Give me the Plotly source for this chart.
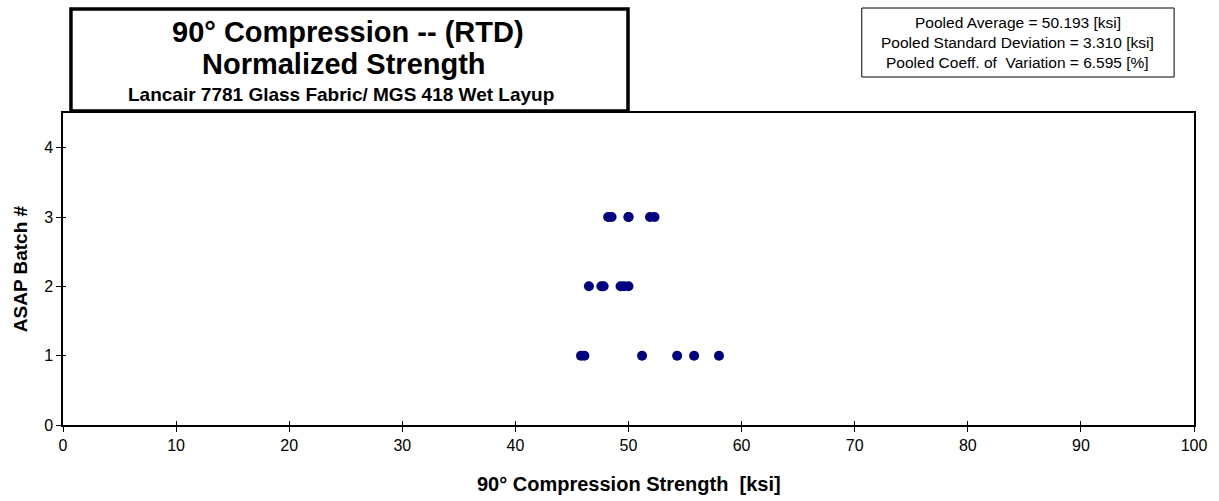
import plotly.graph_objects as go

# Data
batch_ids = [1, 2, 3]
batch1_strength = [45.8, 46.1, 51.2, 54.3, 55.8, 58.0]
batch2_strength = [46.5, 47.6, 47.8, 49.3, 49.6, 50.0]
batch3_strength = [48.2, 48.5, 50.0, 50.0, 51.9, 52.3]
x_ticks = [0, 10, 20, 30, 40, 50, 60, 70, 80, 90, 100]
y_ticks = [0, 1, 2, 3, 4]

title_lines = ["90° Compression -- (RTD)", "Normalized Strength"]
subtitle = "Lancair 7781 Glass Fabric/ MGS 418 Wet Layup"
stats_lines = [
    "Pooled Average = 50.193 [ksi]",
    "Pooled Standard Deviation = 3.310 [ksi]",
    "Pooled Coeff. of  Variation = 6.595 [%]",
]
x_title = "90° Compression Strength  [ksi]"
y_title = "ASAP Batch #"

W, H = 1219, 501
L, R, T, B = 63, 1200, 113, 425  # plot area in pixels
FONT = "Arial, Liberation Sans, sans-serif"


def px(x):
    return (x - L) / (R - L)


def py(y):
    return (B - y) / (B - T)


xs, ys = [], []
for b, vals in zip(batch_ids, [batch1_strength, batch2_strength, batch3_strength]):
    xs += vals
    ys += [b] * len(vals)

fig = go.Figure()
fig.add_trace(go.Scatter(
    x=xs, y=ys, mode="markers",
    marker=dict(color="#000080", size=10, line=dict(width=0)),
    showlegend=False, hoverinfo="x+y",
))
# invisible trace on overlay axes so the inside tick half is drawn
fig.add_trace(go.Scatter(x=[None], y=[None], xaxis="x2", yaxis="y2",
                         showlegend=False, hoverinfo="skip"))

axis_common = dict(tickcolor="black", showgrid=False, zeroline=False)

fig.update_layout(
    width=W, height=H,
    margin=dict(l=L, r=W - R, t=T, b=H - B),
    paper_bgcolor="white", plot_bgcolor="white",
    font=dict(family=FONT, color="black", size=16),
    xaxis=dict(
        range=[0, 100], tickvals=x_ticks, ticks="outside", ticklen=5,
        showline=True, linecolor="black", linewidth=1.5, mirror=True,
        tickfont=dict(size=16, family=FONT), **axis_common,
    ),
    yaxis=dict(
        range=[0, 4.5], tickvals=y_ticks, ticks="outside", ticklen=5,
        showline=True, linecolor="black", linewidth=1.5, mirror=True,
        tickfont=dict(size=16, family=FONT), **axis_common,
    ),
    xaxis2=dict(
        range=[0, 100], tickvals=x_ticks, ticks="inside", ticklen=4,
        overlaying="x", side="bottom", anchor="y2", showticklabels=False,
        showline=False, **axis_common,
    ),
    yaxis2=dict(
        range=[0, 4.5], tickvals=y_ticks, ticks="inside", ticklen=3,
        overlaying="y", side="left", anchor="x2", showticklabels=False,
        showline=False, **axis_common,
    ),
)

# Axis titles
fig.add_annotation(xref="paper", yref="paper", x=px((L + R) / 2), y=py(484),
                   text="<b>" + x_title + "</b>", showarrow=False,
                   font=dict(size=20, family=FONT), xanchor="center", yanchor="middle")
fig.add_annotation(xref="paper", yref="paper", x=px(20), y=py((T + B) / 2),
                   text="<b>" + y_title + "</b>", showarrow=False, textangle=-90,
                   font=dict(size=19, family=FONT), xanchor="center", yanchor="middle")

# Title box
fig.add_shape(type="rect", xref="paper", yref="paper",
              x0=px(71), x1=px(631), y0=py(111), y1=py(9),
              line=dict(color="black", width=3.5), fillcolor="white", layer="above")
fig.add_annotation(xref="paper", yref="paper", x=px(350), y=py(32),
                   text="<b>" + title_lines[0] + "</b>", showarrow=False,
                   font=dict(size=29, family=FONT), xanchor="center", yanchor="middle")
fig.add_annotation(xref="paper", yref="paper", x=px(345), y=py(64),
                   text="<b>" + title_lines[1] + "</b>", showarrow=False,
                   font=dict(size=29, family=FONT), xanchor="center", yanchor="middle")
fig.add_annotation(xref="paper", yref="paper", x=px(342), y=py(94),
                   text="<b>" + subtitle + "</b>", showarrow=False,
                   font=dict(size=19, family=FONT), xanchor="center", yanchor="middle")

# Stats box
fig.add_shape(type="rect", xref="paper", yref="paper",
              x0=px(866), x1=px(1180), y0=py(77), y1=py(8),
              line=dict(color="black", width=1), fillcolor="white", layer="above")
for i, line in enumerate(stats_lines):
    fig.add_annotation(xref="paper", yref="paper", x=px(1023), y=py(23 + 20 * i),
                       text=line, showarrow=False,
                       font=dict(size=15.5, family=FONT), xanchor="center", yanchor="middle")

fig.write_html("out.html")
